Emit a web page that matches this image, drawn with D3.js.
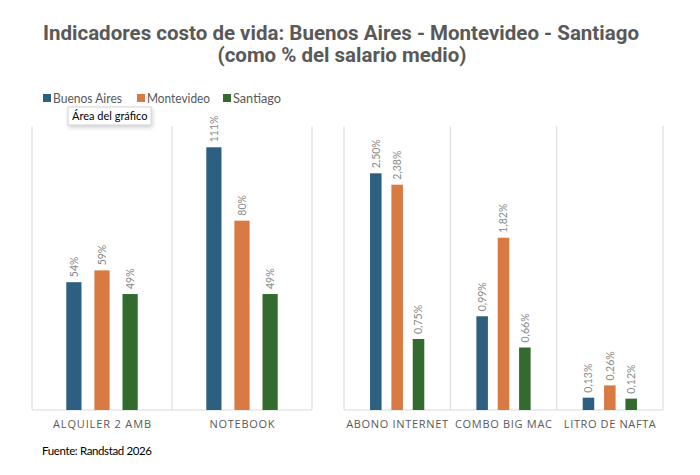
<!DOCTYPE html>
<html><head><meta charset="utf-8">
<script src="https://cdn.jsdelivr.net/npm/d3@7"></script>
<style>
body{margin:0;background:#fff;}
svg{display:block;font-family:"Open Sans",Lato,sans-serif;}
</style></head>
<body><svg id="c" width="700" height="475"></svg>
<script>
const series = ["Buenos Aires","Montevideo","Santiago"];
const colors = ["#2D5F80","#D97A43","#336A2E"];
const catsLeft = ["ALQUILER 2 AMB","NOTEBOOK"];
const leftBA = [54,111];
const leftMV = [59,80];
const leftSA = [49,49];
const catsRight = ["ABONO INTERNET","COMBO BIG MAC","LITRO DE NAFTA"];
const rightBA = [2.50,0.99,0.13];
const rightMV = [2.38,1.82,0.26];
const rightSA = [0.75,0.66,0.12];
const leftLabels = [["54%","111%"],["59%","80%"],["49%","49%"]];
const rightLabels = [["2,50%","0,99%","0,13%"],["2,38%","1,82%","0,26%"],["0,75%","0,66%","0,12%"]];

const catWidth = {"ALQUILER 2 AMB":98,"NOTEBOOK":65,"ABONO INTERNET":102,"COMBO BIG MAC":97,"LITRO DE NAFTA":92};
const legWidth = [69,63,48];

const svg = d3.select("#c");
const gray = "#595959";

// Title
svg.append("text").attr("x",341).attr("y",40).attr("text-anchor","middle")
  .attr("font-family","Roboto,sans-serif").attr("font-weight","bold").attr("font-size",20)
  .attr("fill",gray).attr("textLength",596).attr("lengthAdjust","spacingAndGlyphs")
  .text("Indicadores costo de vida: Buenos Aires - Montevideo - Santiago");
svg.append("text").attr("x",342).attr("y",62).attr("text-anchor","middle")
  .attr("font-family","Roboto,sans-serif").attr("font-weight","bold").attr("font-size",20)
  .attr("fill",gray).attr("textLength",249).attr("lengthAdjust","spacingAndGlyphs")
  .text("(como % del salario medio)");

// Legend
const legX = [43,137,223];
series.forEach((s,i)=>{
  svg.append("rect").attr("x",legX[i]).attr("y",94).attr("width",8).attr("height",8).attr("fill",colors[i]);
  svg.append("text").attr("x",legX[i]+10).attr("y",102.5).attr("font-family","Lato,sans-serif")
    .attr("font-size",12.5).attr("fill",gray).attr("textLength",legWidth[i])
    .attr("lengthAdjust","spacingAndGlyphs").text(s);
});

function panel(cats, data, labels, x0, x1, yMax){
  const y = d3.scaleLinear().domain([0,yMax]).range([410,126]);
  const x = d3.scaleBand().domain(cats).range([x0,x1]).padding(0);
  const xi = d3.scaleBand().domain(series).range([0,x.bandwidth()]).paddingInner(0.46).paddingOuter(1.22);
  const g = svg.append("g");
  const bounds = cats.map(c=>x(c)).concat([x1]);
  g.selectAll("line.v").data(bounds).join("line")
    .attr("x1",d=>d).attr("x2",d=>d).attr("y1",126).attr("y2",410)
    .attr("stroke","#d9d9d9").attr("stroke-width",1);
  g.append("line").attr("x1",x0).attr("x2",x1).attr("y1",410).attr("y2",410)
    .attr("stroke","#d9d9d9").attr("stroke-width",1.2);
  series.forEach((s,si)=>{
    cats.forEach((c,ci)=>{
      const v = data[si][ci];
      const bx = x(c)+xi(s);
      g.append("rect").attr("x",bx).attr("y",y(v)).attr("width",xi.bandwidth())
        .attr("height",y(0)-y(v)).attr("fill",colors[si]);
      g.append("text").attr("transform",`translate(${bx+xi.bandwidth()/2+3.7},${y(v)-5}) rotate(-90)`)
        .attr("font-family","Lato,sans-serif")
        .attr("font-size",10.5).attr("fill","#8a8a8a").text(labels[si][ci]);
    });
  });
  cats.forEach(c=>{
    g.append("text").attr("x",x(c)+x.bandwidth()/2).attr("y",428).attr("text-anchor","middle")
      .attr("font-size",11).attr("fill",gray)
      .attr("textLength",catWidth[c]).attr("lengthAdjust","spacing").text(c);
  });
}
panel(catsLeft,[leftBA,leftMV,leftSA],leftLabels,32,312,120);
panel(catsRight,[rightBA,rightMV,rightSA],rightLabels,344,663,3);

// Source
svg.append("text").attr("x",42).attr("y",455).attr("font-size",11.5).attr("fill","#000")
  .attr("font-family","Lato,sans-serif").attr("textLength",110).text("Fuente: Randstad 2026");

// Tooltip artifact
const defs = svg.append("defs");
const f = defs.append("filter").attr("id","sh").attr("x","-20%").attr("y","-40%").attr("width","140%").attr("height","200%");
f.append("feDropShadow").attr("dx",1).attr("dy",2).attr("stdDeviation",2).attr("flood-color","#000").attr("flood-opacity",0.2);
svg.append("rect").attr("x",68).attr("y",107).attr("width",83).attr("height",18)
  .attr("fill","#fff").attr("stroke","#c8c8c8").attr("stroke-width",0.8).attr("filter","url(#sh)");
svg.append("text").attr("x",72).attr("y",120).attr("font-family","Lato,sans-serif").attr("font-size",11)
  .attr("fill","#000").text("Área del gráfico");
</script></body></html>
